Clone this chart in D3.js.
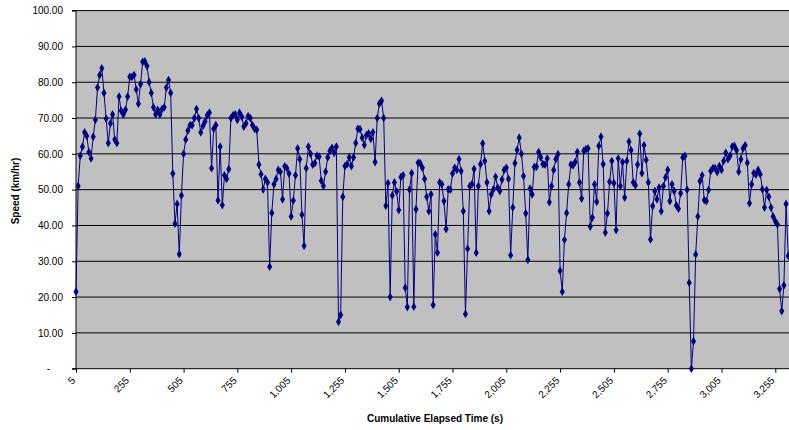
<!DOCTYPE html>
<html><head><meta charset="utf-8">
<script src="https://cdn.jsdelivr.net/npm/d3@7"></script>
<style>
body{margin:0;background:#fff}
svg{display:block;font-family:"Liberation Sans",Arial,sans-serif}
</style></head>
<body><svg id="chart" width="789" height="430"></svg>
<script>
// Speed samples (km/hr), one every 10 s starting at 5 s
const speed = [
21.5,51,59.5,62,66,65,60.5,58.7,64.8,69.5,78.5,82,83.9,77,69.8,63,68.5,71,64,63,
76,72,71,72.3,76,81.5,81.5,82,78,74,79.5,85.7,85.8,84.5,80,77,73,71,72.3,71,
72.5,73,78.5,80.6,77,54.5,40.5,46,32,48.4,60,64,66.5,68,
68,70,72.5,70,66,67.8,69,70.8,71.5,56,67,68,47,62,45.7,54,53,55.7,70,70.8,
71,69.5,71.5,70.4,67.6,68.5,70.5,70,68,67,66.7,57,54.3,50.1,53,52,28.5,43.5,51.5,53,
55.5,55,47.3,56.5,56,54.5,42.5,47,54,61.5,58.5,43,34.3,56,62,
60,57,57.4,59.5,59.2,52.5,51,55,59,60.8,61.7,60.3,62,13.1,15,48,56.6,57.1,59,56.6,
59,63,67,66.9,64.5,62.5,65.2,65.7,64.2,66,57.7,70,74,74.8,70,45.5,51.8,20,48.4,52,
49.5,44.3,53.5,54,22.6,17.2,50,54.6,17.3,44.5,57.5,57.4,56.1,53,
48,44,48.7,17.8,37.5,32.4,52,51.5,46.8,39,50.1,50,54.5,56.1,55.5,58.5,55.2,44,15.3,33.5,
51,51.5,55.8,32.4,51,57.1,62.9,58,52,44,48.7,50.1,53.6,50.6,49.6,52.8,55.5,56.1,53,31.7,
45,57.4,61.1,64.5,60,53.8,43.4,30.4,50.3,48.7,56.3,56.4,60.5,59,
57.1,57,58.7,46.5,51,55.5,58.5,59.9,27.3,21.5,36,43.5,51.5,57,56.8,57.7,60.5,52,47.5,60.8,
61.3,61.5,39.7,42.2,51.5,46.6,62.2,64.8,57.1,38,43.4,52.2,58,51.8,38.7,58.7,51,57.7,47.8,58,
63.4,61,52,51.2,57,65.6,54.6,62.4,58.3,52,36.1,45.4,49.6,47.3,50.6,
44,51,53.4,55.5,46.8,51.5,49.6,45.6,44.7,49,59,59.4,50,24,0,7.7,31.9,42.5,52.4,54,
47.1,46.8,49.9,55.2,56,56,54.9,56.6,55.5,58,60.3,58.5,59.5,62,62.2,61,55,58.5,61.5,62.4,
57.5,46.2,51.5,54.6,54.2,55.5,54.3,50.1,45,49.9,48,45,42.5,41.2,40.3,22.3,16.1,23.3,46,31.5
];
const startTime = 5;
const sampleStep = 10;
const elapsed = speed.map((_, i) => startTime + sampleStep * i);

const xTicks = [5,255,505,755,1005,1255,1505,1755,2005,2255,2505,2755,3005,3255];
const yTicks = [0,10,20,30,40,50,60,70,80,90,100];
const xTitle = "Cumulative Elapsed Time (s)";
const yTitle = "Speed (km/hr)";

const svg = d3.select("#chart");
const L = 76, R = 789, T = 10.6, B = 368.7;

const x = d3.scaleLinear().domain([5, 3315]).range([L, 788.2]);
const y = d3.scaleLinear().domain([0, 100]).range([B, T]);

// plot background
svg.append("rect").attr("x", L).attr("y", T).attr("width", R - L).attr("height", B - T)
  .attr("fill", "#C0C0C0");

// gridlines
svg.append("g").selectAll("line").data(yTicks.filter(d => d > 0)).join("line")
  .attr("x1", L).attr("x2", R).attr("y1", d => y(d)).attr("y2", d => y(d))
  .attr("stroke", "#000").attr("stroke-width", 1);

// y axis
const yAxis = svg.append("g").attr("transform", `translate(${L},0)`)
  .call(d3.axisLeft(y).tickValues(yTicks).tickSize(4).tickPadding(9)
    .tickFormat(d => d === 0 ? "-" : d3.format(".2f")(d)));
yAxis.select(".domain").attr("stroke", "#000").attr("d", `M-4,${T}H0V${B}H-4`);
yAxis.selectAll("text").attr("font-size", "10px").attr("fill", "#000")
  .attr("font-family", "'Liberation Sans', Arial, sans-serif")
  .attr("dx", d => d === 0 ? -13 : 0);

// x axis
const xAxis = svg.append("g").attr("transform", `translate(0,${B})`)
  .call(d3.axisBottom(x).tickValues(xTicks).tickSize(4).tickFormat(d3.format(",")));
xAxis.select(".domain").attr("stroke", "#000").attr("d", `M${L},0H${R}`);
xAxis.selectAll("text").attr("font-size", "10px").attr("fill", "#000")
  .attr("font-family", "'Liberation Sans', Arial, sans-serif")
  .attr("text-anchor", "end").attr("y", 0).attr("dy", "0.35em")
  .attr("transform", "translate(-3,10) rotate(-45)");

// series line
svg.append("path").datum(speed)
  .attr("fill", "none").attr("stroke", "#000080").attr("stroke-width", 1)
  .attr("d", d3.line().x((d, i) => x(elapsed[i])).y(d => y(d)));

// markers
svg.append("g").selectAll("path").data(speed).join("path")
  .attr("transform", (d, i) => `translate(${x(elapsed[i])},${y(d)})`)
  .attr("d", d3.symbol(d3.symbolDiamond, 22))
  .attr("fill", "#000080");

// titles
svg.append("text").attr("x", 435).attr("y", 422).attr("text-anchor", "middle")
  .attr("font-size", "10px").attr("font-weight", "bold").text(xTitle);
svg.append("text").attr("transform", "translate(19,191) rotate(-90)")
  .attr("text-anchor", "middle").attr("font-size", "10px").attr("font-weight", "bold").text(yTitle);
</script></body></html>
